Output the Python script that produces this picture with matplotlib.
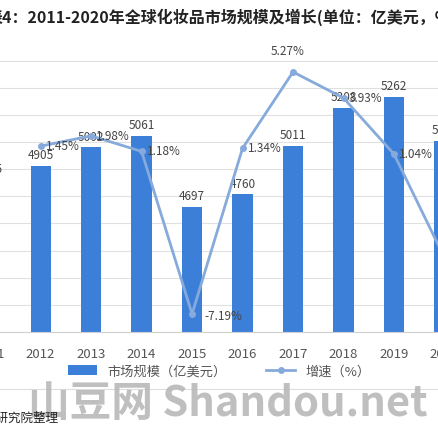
import numpy as np
import matplotlib.pyplot as plt

plt.rcParams['font.family'] = ['Noto Sans CJK SC', 'DejaVu Sans']

years = ['2011', '2012', '2013', '2014', '2015', '2016', '2017', '2018', '2019', '2020']
size = [4835, 4905, 5002, 5061, 4697, 4760, 5011, 5208, 5262, 5036]
growth = [None, 1.45, 1.98, 1.18, -7.19, 1.34, 5.27, 3.93, 1.04, -4.3]

fig = plt.figure(figsize=(4.39, 4.39), dpi=100)
ax = fig.add_axes([-0.08, 0.2415, 1.15, 0.656])
x = np.arange(len(years))
ax.bar(x, size, width=0.4, color='#3b7fd9', label='市场规模（亿美元）', zorder=2)
ax.set_ylim(4050, 5536)
ax.set_xlim(-0.5, 9.5)
ax.set_yticks(np.arange(4050, 5536, 140))
ax.yaxis.grid(True, color='#e0e0e0', lw=0.8, zorder=0)
ax.tick_params(left=False, bottom=False, labelleft=False, labelsize=9.5, colors='#555555', pad=7)
ax.set_xticks(x, years)
for s in ax.spines.values():
    s.set_visible(False)
ax.spines['bottom'].set_visible(True)
ax.spines['bottom'].set_color('#d0d0d0')
for xi, v in zip(x, size):
    ax.text(xi, v + 25, str(v), ha='center', va='bottom', fontsize=8.5, color='#444444')

ax2 = ax.twinx()
gx = [i for i, g in enumerate(growth) if g is not None]
gy = [g for g in growth if g is not None]
ax2.plot(gx, gy, color='#86aadb', lw=2, marker='o', ms=4, label='增速（%）', zorder=3)
ax2.set_ylim(-8.12, 6.71)
ax2.axis('off')
for xi, g in zip(gx, gy):
    if g == 5.27:
        ax2.text(xi - 0.1, g + 0.9, f'{g:.2f}%', ha='center', fontsize=8.5, color='#444444')
    elif g == -7.19:
        ax2.text(xi + 0.25, g - 0.1, f'{g:.2f}%', ha='left', va='center', fontsize=8.5, color='#444444')
    else:
        ax2.text(xi + 0.1, g - 0.15, f'{g:.2f}%', ha='left', fontsize=8.5, color='#444444')

h1, l1 = ax.get_legend_handles_labels()
h2, l2 = ax2.get_legend_handles_labels()
fig.legend(h1 + h2, l1 + l2, loc='center', bbox_to_anchor=(0.5, 1 - 372 / 439), ncol=2,
           frameon=False, fontsize=9.5, labelcolor='#555555', handlelength=2.2, columnspacing=3)

fig.text(-0.03, 1 - 17 / 439, '表4：2011-2020年全球化妆品市场规模及增长(单位：亿美元，%)',
         fontsize=11.5, fontweight='bold', va='center', color='#222222')
fig.text(0.52, 1 - 404 / 439, '山豆网 Shandou.net', fontsize=30, fontweight='bold',
         color='#b8b8b8', ha='center', va='center', alpha=0.9)
fig.text(58 / 439, 1 - 418 / 439, '资料来源：前瞻产业研究院整理', fontsize=9, ha='right',
         va='center', color='#222222')
fig.add_artist(plt.Line2D([0, 1], [1 - 390 / 439] * 2, color='#dddddd', lw=0.8))

plt.savefig('out.png', dpi=100)
